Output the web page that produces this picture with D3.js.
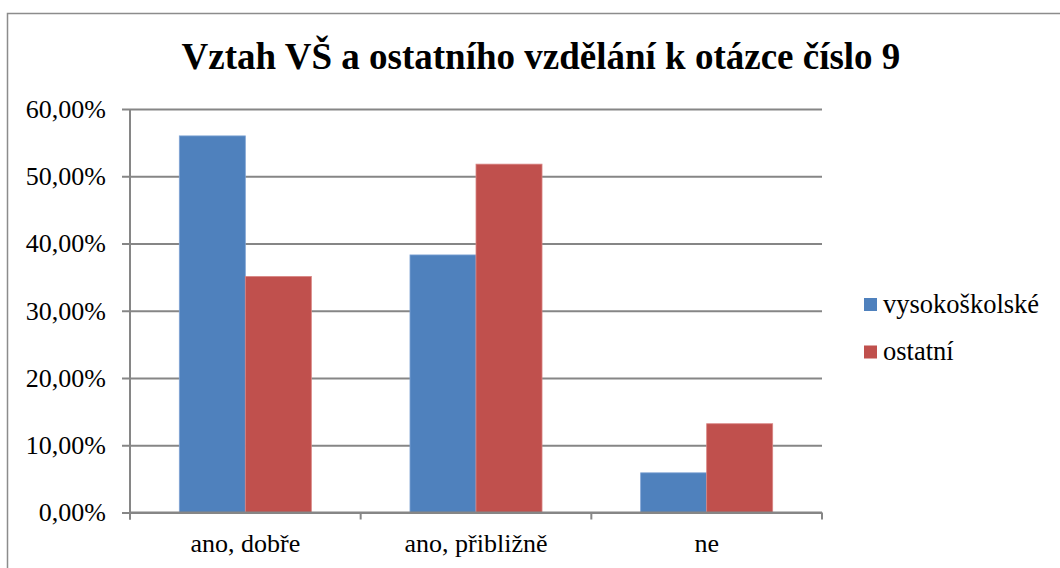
<!DOCTYPE html>
<html>
<head>
<meta charset="utf-8">
<script src="https://cdn.jsdelivr.net/npm/d3@7"></script>
<style>
  html, body { margin: 0; padding: 0; background: #fff; }
  svg { display: block; }
</style>
</head>
<body>
<svg id="chart" width="1060" height="568"></svg>
<script>
// Categories, series and values (share of answers)
const categories = ["ano, dobře", "ano, přibližně", "ne"];
const seriesNames = ["vysokoškolské", "ostatní"];
const vysokoskolske = [0.560, 0.383, 0.059];
const ostatni = [0.351, 0.518, 0.132];
const yTicks = [0, 0.1, 0.2, 0.3, 0.4, 0.5, 0.6];
const titleText = "Vztah VŠ a ostatního vzdělání k otázce číslo 9";

const seriesValues = [vysokoskolske, ostatni];
const colors = ["#4F81BD", "#C0504D"];
const edgeColors = ["#7FA3D4", "#D98583"];
const axisColor = "#868686";
const font = '"Liberation Serif"';

const svg = d3.select("#chart");

// outer chart frame
svg.append("rect")
  .attr("x", 7.5).attr("y", 13.5)
  .attr("width", 1070).attr("height", 600)
  .attr("fill", "#fff")
  .attr("stroke", "#8c8c8c").attr("stroke-width", 1.5);

// title
svg.append("text")
  .attr("x", 541).attr("y", 69)
  .attr("text-anchor", "middle")
  .style("font-family", font)
  .style("font-weight", "bold")
  .style("font-size", "37px")
  .attr("fill", "#000")
  .text(titleText);

const plot = { left: 130, right: 822, top: 109, bottom: 512.5 };

const x = d3.scaleBand().domain(categories).range([plot.left, plot.right]).padding(0);
const xInner = d3.scaleBand().domain(seriesNames).range([0, x.bandwidth()])
  .paddingInner(0).paddingOuter(0.747);
const y = d3.scaleLinear().domain([0, 0.6]).range([plot.bottom, plot.top]);

const fmt = v => d3.format(".2f")(v * 100).replace(".", ",") + "%";

// horizontal gridlines with left ticks
const yAxis = d3.axisLeft(y)
  .tickValues(yTicks)
  .tickSize(-(plot.right - plot.left))
  .tickSizeOuter(0)
  .tickPadding(24)
  .tickFormat(fmt);

const gy = svg.append("g")
  .attr("transform", `translate(${plot.left},0)`)
  .call(yAxis)
  .attr("font-family", null);
gy.select(".domain").remove();
gy.selectAll(".tick line")
  .attr("x1", -8)
  .attr("stroke", axisColor).attr("stroke-width", 2);
gy.selectAll(".tick text")
  .style("font-family", font)
  .style("font-size", "26px")
  .attr("fill", "#000")
  .attr("dy", "0.32em");

// vertical axis line
svg.append("line")
  .attr("x1", plot.left).attr("x2", plot.left)
  .attr("y1", plot.top).attr("y2", plot.bottom + 7)
  .attr("stroke", axisColor).attr("stroke-width", 2);

// bars
categories.forEach((cat, ci) => {
  seriesNames.forEach((s, si) => {
    const v = seriesValues[si][ci];
    svg.append("rect")
      .attr("x", x(cat) + xInner(s))
      .attr("y", y(v))
      .attr("width", xInner.bandwidth())
      .attr("height", y(0) - y(v))
      .attr("fill", colors[si])
      .attr("stroke", edgeColors[si])
      .attr("stroke-width", 0.8);
  });
});

// category axis
const xAxis = d3.axisBottom(x).tickSize(0).tickPadding(0).tickSizeOuter(0);
const gx = svg.append("g")
  .attr("transform", `translate(0,${plot.bottom})`)
  .call(xAxis)
  .attr("font-family", null);
gx.select(".domain").remove();
gx.selectAll(".tick text")
  .style("font-family", font)
  .style("font-size", "26px")
  .attr("fill", "#000")
  .attr("y", 39)
  .attr("dy", 0);

svg.append("line")
  .attr("x1", plot.left).attr("x2", plot.right)
  .attr("y1", plot.bottom).attr("y2", plot.bottom)
  .attr("stroke", axisColor).attr("stroke-width", 2);

// category boundary ticks
const boundaries = categories.map(c => x(c)).concat([plot.right]);
svg.selectAll(".xtick").data(boundaries).enter().append("line")
  .attr("x1", d => d).attr("x2", d => d)
  .attr("y1", plot.bottom).attr("y2", plot.bottom + 7)
  .attr("stroke", axisColor).attr("stroke-width", 2);

// legend
const legend = svg.append("g").attr("transform", "translate(864,298)");
seriesNames.forEach((s, i) => {
  const g = legend.append("g").attr("transform", `translate(0,${i * 47.5})`);
  g.append("rect")
    .attr("width", 13).attr("height", 13)
    .attr("fill", colors[i]);
  g.append("text")
    .attr("x", 19).attr("y", 14.5)
    .style("font-family", font)
    .style("font-size", "26.5px")
    .attr("fill", "#000")
    .text(s);
});
</script>
</body>
</html>
